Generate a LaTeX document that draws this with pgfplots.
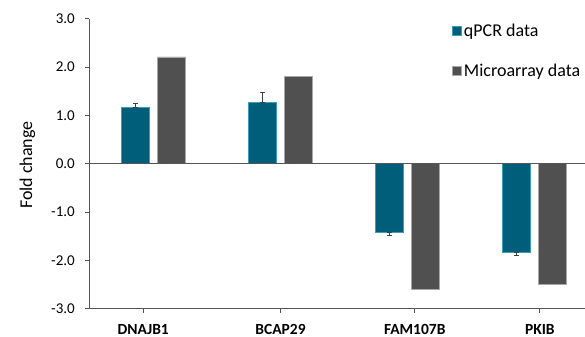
\documentclass[border=0pt]{standalone}
\usepackage{pgfplots}
\pgfplotsset{compat=1.18}
\usepackage{fontspec}
\setmainfont{Carlito}

\definecolor{qpcr}{HTML}{005E7B}
\definecolor{qpcredge}{HTML}{3A9FB6}
\definecolor{micro}{HTML}{505050}
\definecolor{microedge}{HTML}{A8A8A8}
\definecolor{axisgray}{HTML}{555555}

% fold change per gene (bars left of the group centre): value, upper error, lower error
\pgfplotstableread{
x        y      ep    em
-0.142   1.17   0.08  0
 0.858   1.27   0.20  0
 1.858  -1.42   0     0.06
 2.858  -1.84   0     0.05
}\qpcrdata
% microarray fold change (bars right of the group centre)
\pgfplotstableread{
x        y
 0.142   2.21
 1.142   1.81
 2.142  -2.60
 3.142  -2.50
}\microdata

\begin{document}
\begin{tikzpicture}
\useasboundingbox (0,0) rectangle (585bp,337bp);
\begin{axis}[
  at={(89.3bp,28.3bp)}, anchor=south west,
  scale only axis,
  width=495.7bp, height=290bp,
  xmin=-0.507, xmax=3.40,
  ymin=-3, ymax=3,
  axis lines=left,
  axis line style={-, axisgray, line width=1.2pt},
  x axis line style={shorten <=-4bp},
  tick style={axisgray, line width=0.8pt},
  tick align=outside,
  major tick length=4bp,
  ytick={-3,-2,-1,0,1,2,3},
  yticklabels={-3.0,-2.0,-1.0,0.0,1.0,2.0,3.0},
  xtick={-0.082,1.0,2.058,3.044},
  xticklabels={DNAJB1,BCAP29,FAM107B,PKIB},
  yticklabel style={font=\fontsize{15bp}{17bp}\selectfont, xshift=-7bp},
  xticklabel style={font=\fontsize{15.5bp}{17bp}\selectfont\bfseries, yshift=-8bp},
  ylabel={Fold change},
  ylabel style={font=\fontsize{18bp}{20bp}\selectfont, at={(rel axis cs:0,0.495)}, anchor=center, rotate=0, yshift=62bp},
  bar width=0.22,
  clip=false,
  legend style={at={(rel axis cs:0.725,0.995)}, anchor=north west, draw=none, fill=none,
    font=\fontsize{18bp}{21bp}\selectfont, row sep=22bp,
    /tikz/every even column/.append style={column sep=4bp}},
  legend cell align=left,
  legend image code/.code={\fill[#1] (0bp,-4bp) rectangle (9.5bp,5bp);},
]
\addplot[ybar, bar shift=0, fill=qpcr, draw=qpcredge, line width=0.6pt,
  error bars/.cd, y dir=both, y explicit,
  error bar style={black!75, line width=0.9pt},
  error mark options={rotate=90, mark size=2.5bp, black!75, line width=0.9pt}]
  table[x=x, y=y, y error plus=ep, y error minus=em] {\qpcrdata};
\addlegendentry{qPCR data}
\addplot[ybar, bar shift=0, fill=micro, draw=microedge, line width=0.6pt]
  table[x=x, y=y] {\microdata};
\addlegendentry{Microarray data}
% baseline at zero fold change
\draw[axisgray, line width=1.2pt] (axis cs:-0.507,0) -- (axis cs:3.40,0);
\end{axis}
\end{tikzpicture}
\end{document}
